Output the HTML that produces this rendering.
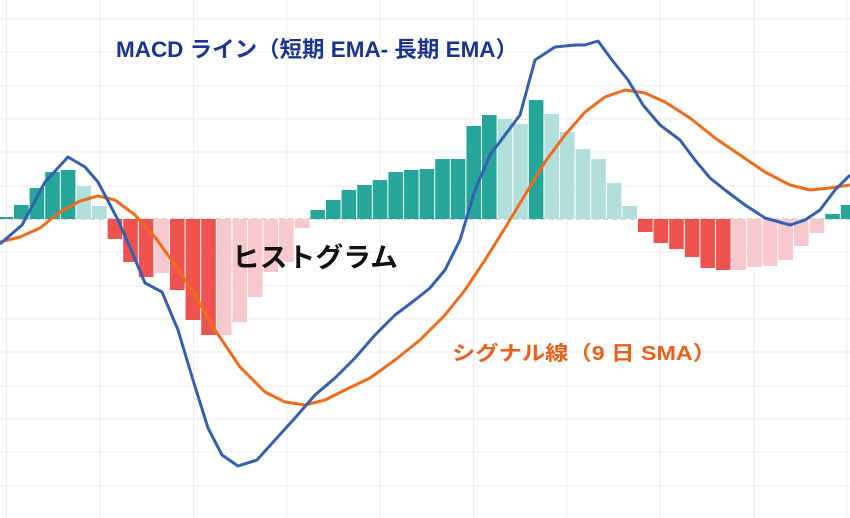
<!DOCTYPE html>
<html><head><meta charset="utf-8"><style>
html,body{margin:0;padding:0;background:#fff;width:850px;height:518px;overflow:hidden}
svg{display:block}
</style></head><body>
<svg width="850" height="518" viewBox="0 0 850 518" xmlns="http://www.w3.org/2000/svg">
<g stroke="#ececec" stroke-width="1">
<line x1="6.5" y1="0" x2="6.5" y2="518"/><line x1="100" y1="0" x2="100" y2="518"/><line x1="193.5" y1="0" x2="193.5" y2="518"/><line x1="287" y1="0" x2="287" y2="518"/><line x1="380" y1="0" x2="380" y2="518"/><line x1="473.5" y1="0" x2="473.5" y2="518"/><line x1="567" y1="0" x2="567" y2="518"/><line x1="660" y1="0" x2="660" y2="518"/><line x1="754" y1="0" x2="754" y2="518"/><line x1="847" y1="0" x2="847" y2="518"/>
<line x1="0" y1="19" x2="850" y2="19"/><line x1="0" y1="52" x2="850" y2="52"/><line x1="0" y1="86" x2="850" y2="86"/><line x1="0" y1="119" x2="850" y2="119"/><line x1="0" y1="152" x2="850" y2="152"/><line x1="0" y1="186" x2="850" y2="186"/><line x1="0" y1="252" x2="850" y2="252"/><line x1="0" y1="286" x2="850" y2="286"/><line x1="0" y1="319" x2="850" y2="319"/><line x1="0" y1="352" x2="850" y2="352"/><line x1="0" y1="386" x2="850" y2="386"/><line x1="0" y1="419" x2="850" y2="419"/><line x1="0" y1="452" x2="850" y2="452"/><line x1="0" y1="486" x2="850" y2="486"/>
</g>
<line x1="0" y1="219" x2="850" y2="219" stroke="#aaa" stroke-width="1" stroke-dasharray="5,4"/>
<g>
<rect x="-1.6" y="217" width="14.6" height="2" fill="#26a69a"/>
<rect x="14" y="205" width="14.6" height="14" fill="#26a69a"/>
<rect x="29.6" y="188" width="14.6" height="31" fill="#26a69a"/>
<rect x="45.2" y="172" width="14.6" height="47" fill="#26a69a"/>
<rect x="60.8" y="170" width="14.6" height="49" fill="#26a69a"/>
<rect x="76.4" y="186" width="14.6" height="33" fill="#b2dfdb"/>
<rect x="92" y="206" width="14.6" height="13" fill="#b2dfdb"/>
<rect x="107.6" y="219" width="14.6" height="20" fill="#ef5350"/>
<rect x="123.2" y="219" width="14.6" height="43" fill="#ef5350"/>
<rect x="138.8" y="219" width="14.6" height="58" fill="#ef5350"/>
<rect x="154.4" y="219" width="14.6" height="54" fill="#f8c8cf"/>
<rect x="170" y="219" width="14.6" height="71" fill="#ef5350"/>
<rect x="185.6" y="219" width="14.6" height="101" fill="#ef5350"/>
<rect x="201.2" y="219" width="14.6" height="116" fill="#ef5350"/>
<rect x="216.8" y="219" width="14.6" height="116" fill="#f8c8cf"/>
<rect x="232.4" y="219" width="14.6" height="103" fill="#f8c8cf"/>
<rect x="248" y="219" width="14.6" height="78" fill="#f8c8cf"/>
<rect x="263.6" y="219" width="14.6" height="53" fill="#f8c8cf"/>
<rect x="279.2" y="219" width="14.6" height="43" fill="#f8c8cf"/>
<rect x="294.8" y="219" width="14.6" height="9" fill="#f8c8cf"/>
<rect x="310.4" y="210" width="14.6" height="9" fill="#26a69a"/>
<rect x="326" y="200" width="14.6" height="19" fill="#26a69a"/>
<rect x="341.6" y="190" width="14.6" height="29" fill="#26a69a"/>
<rect x="357.2" y="185" width="14.6" height="34" fill="#26a69a"/>
<rect x="372.8" y="180" width="14.6" height="39" fill="#26a69a"/>
<rect x="388.4" y="172" width="14.6" height="47" fill="#26a69a"/>
<rect x="404" y="170" width="14.6" height="49" fill="#26a69a"/>
<rect x="419.6" y="169" width="14.6" height="50" fill="#26a69a"/>
<rect x="435.2" y="159" width="14.6" height="60" fill="#26a69a"/>
<rect x="450.8" y="159" width="14.6" height="60" fill="#26a69a"/>
<rect x="466.4" y="126" width="14.6" height="93" fill="#26a69a"/>
<rect x="482" y="115" width="14.6" height="104" fill="#26a69a"/>
<rect x="497.6" y="119" width="14.6" height="100" fill="#b2dfdb"/>
<rect x="513.2" y="124" width="14.6" height="95" fill="#b2dfdb"/>
<rect x="528.8" y="100" width="14.6" height="119" fill="#26a69a"/>
<rect x="544.4" y="114" width="14.6" height="105" fill="#b2dfdb"/>
<rect x="560" y="132" width="14.6" height="87" fill="#b2dfdb"/>
<rect x="575.6" y="149" width="14.6" height="70" fill="#b2dfdb"/>
<rect x="591.2" y="159" width="14.6" height="60" fill="#b2dfdb"/>
<rect x="606.8" y="183" width="14.6" height="36" fill="#b2dfdb"/>
<rect x="622.4" y="206" width="14.6" height="13" fill="#b2dfdb"/>
<rect x="638" y="219" width="14.6" height="13" fill="#ef5350"/>
<rect x="653.6" y="219" width="14.6" height="24" fill="#ef5350"/>
<rect x="669.2" y="219" width="14.6" height="30" fill="#ef5350"/>
<rect x="684.8" y="219" width="14.6" height="38" fill="#ef5350"/>
<rect x="700.4" y="219" width="14.6" height="49" fill="#ef5350"/>
<rect x="716" y="219" width="14.6" height="51" fill="#ef5350"/>
<rect x="731.6" y="219" width="14.6" height="51" fill="#f8c8cf"/>
<rect x="747.2" y="219" width="14.6" height="48" fill="#f8c8cf"/>
<rect x="762.8" y="219" width="14.6" height="47" fill="#f8c8cf"/>
<rect x="778.4" y="219" width="14.6" height="41" fill="#f8c8cf"/>
<rect x="794" y="219" width="14.6" height="27" fill="#f8c8cf"/>
<rect x="809.6" y="219" width="14.6" height="14" fill="#f8c8cf"/>
<rect x="825.2" y="214" width="14.6" height="5" fill="#26a69a"/>
<rect x="840.8" y="205" width="14.6" height="14" fill="#26a69a"/>
</g>
<polyline fill="none" stroke="#ee6c1c" stroke-width="3" stroke-linejoin="round" points="0,242 20,237 40,228 60,212 80,201 98,196 115,200 135,215 155,237 175,265 195,295 215,330 240,367 265,392 285,402 305,405 325,400 345,390 370,378 395,360 420,340 445,315 465,290 485,260 505,228 525,195 545,162 565,135 585,112 605,97 625,90 645,93 665,102 690,118 715,138 740,155 765,172 790,185 810,190 830,188 850,185"/>
<polyline fill="none" stroke="#3560b0" stroke-width="3" stroke-linejoin="round" points="0,244 22,225 45,182 68,157 85,167 98,182 118,220 132,252 145,283 162,292 178,330 193,380 208,428 222,455 238,466 257,460 275,440 295,418 315,395 335,378 355,358 375,335 395,315 415,300 430,288 445,270 460,240 475,190 490,155 505,135 520,115 535,60 555,47 575,45 585,45 598,41 612,60 628,80 643,105 660,125 680,140 695,160 710,178 725,190 745,205 765,218 790,225 805,220 820,210 835,190 850,175"/>
<text x="116" y="57" font-family="'Liberation Sans','Noto Sans CJK JP',sans-serif" font-size="22" font-weight="bold" fill="#1a3591" textLength="402" lengthAdjust="spacingAndGlyphs">MACD ライン（短期 EMA- 長期 EMA）</text>
<text x="232" y="267" font-family="'Liberation Sans','Noto Sans CJK JP',sans-serif" font-size="27" font-weight="bold" fill="#111" textLength="166" lengthAdjust="spacingAndGlyphs">ヒストグラム</text>
<text x="452" y="360" font-family="'Liberation Sans','Noto Sans CJK JP',sans-serif" font-size="20" font-weight="bold" fill="#e8601c" textLength="264" lengthAdjust="spacingAndGlyphs">シグナル線（9 日 SMA）</text>
</svg>
</body></html>
